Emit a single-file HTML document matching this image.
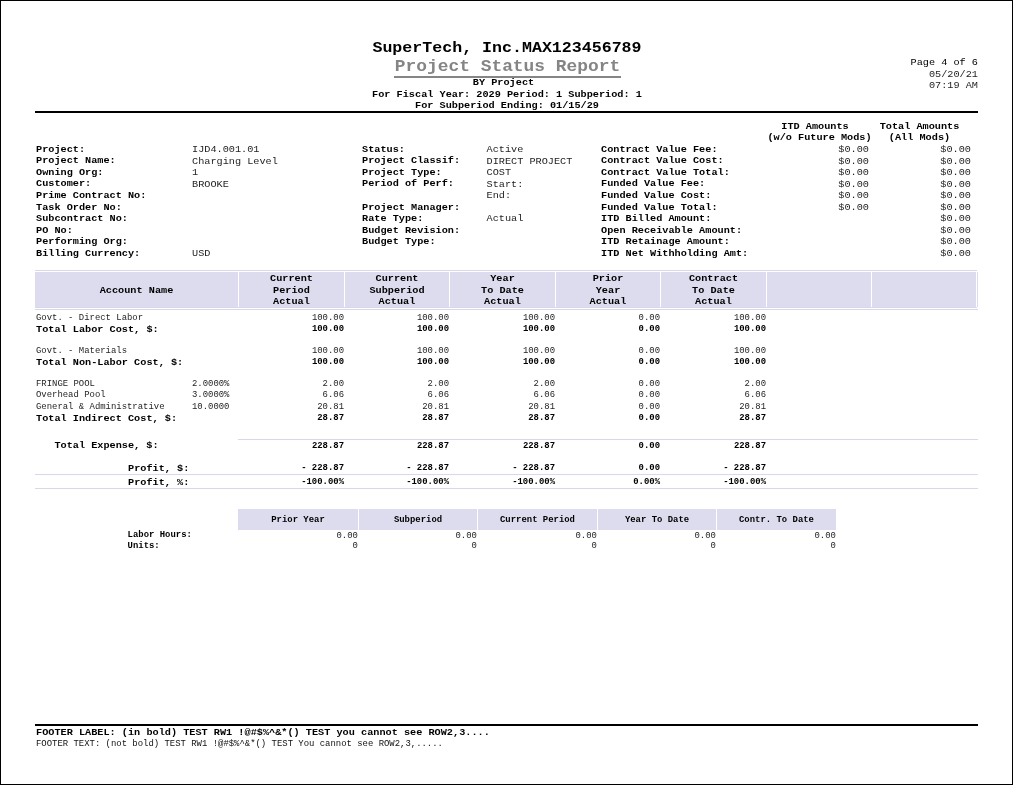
<!DOCTYPE html>
<html lang="en">
<head>
<meta charset="utf-8">
<title>Project Status Report</title>
<style>
html,body{margin:0;padding:0;background:#fff;}
body{width:1013px;height:785px;overflow:hidden;position:relative;font-family:"Liberation Mono","DejaVu Sans Mono",monospace;color:#000;}
#sheet{position:absolute;left:0;top:0;width:1011px;height:783px;border:1px solid #000;background:#fff;}
#canvas{position:absolute;left:-1px;top:-1px;width:1013px;height:785px;}
.t{position:absolute;white-space:pre;font-weight:700;margin:0;transform:scaleY(0.88);}
.b{position:absolute;}
</style>
</head>
<body>
<div id="sheet"><div id="canvas">
<div class="t" style="top:37px;font-size:16.61px;line-height:22px;transform-origin:50% 15px;left:207px;width:600px;text-align:center;">SuperTech, Inc.MAX123456789</div>
<div class="t" style="top:55px;font-size:17.89px;line-height:22px;transform-origin:50% 16px;left:207.5px;width:600px;text-align:center;color:#858585;">Project Status Report</div>
<div class="b" style="left:394px;top:76px;width:227px;height:2px;background:#858585"></div>
<div class="t" style="top:76px;font-size:10.22px;line-height:12px;transform-origin:50% 9px;left:203.5px;width:600px;text-align:center;">BY Project</div>
<div class="t" style="top:88px;font-size:10.22px;line-height:12px;transform-origin:50% 9px;left:207px;width:600px;text-align:center;">For Fiscal Year: 2029 Period: 1 Subperiod: 1</div>
<div class="t" style="top:99px;font-size:10.22px;line-height:12px;transform-origin:50% 9px;left:207px;width:600px;text-align:center;">For Subperiod Ending: 01/15/29</div>
<div class="b" style="left:35px;top:111px;width:943px;height:2px;background:#000"></div>
<div class="t" style="top:56px;font-size:10.22px;line-height:12px;transform-origin:50% 9px;right:35px;text-align:right;font-weight:400;color:#000;">Page 4 of 6</div>
<div class="t" style="top:68px;font-size:10.22px;line-height:12px;transform-origin:50% 9px;right:35px;text-align:right;font-weight:400;color:#1e1e1e;">05/20/21</div>
<div class="t" style="top:79px;font-size:10.22px;line-height:12px;transform-origin:50% 9px;right:35px;text-align:right;font-weight:400;color:#1e1e1e;">07:19 AM</div>
<div class="t" style="top:143px;font-size:10.22px;line-height:12px;transform-origin:50% 9px;left:36px;">Project:</div>
<div class="t" style="top:154px;font-size:10.22px;line-height:12px;transform-origin:50% 9px;left:36px;">Project Name:</div>
<div class="t" style="top:166px;font-size:10.22px;line-height:12px;transform-origin:50% 9px;left:36px;">Owning Org:</div>
<div class="t" style="top:177px;font-size:10.22px;line-height:12px;transform-origin:50% 9px;left:36px;">Customer:</div>
<div class="t" style="top:189px;font-size:10.22px;line-height:12px;transform-origin:50% 9px;left:36px;">Prime Contract No:</div>
<div class="t" style="top:201px;font-size:10.22px;line-height:12px;transform-origin:50% 9px;left:36px;">Task Order No:</div>
<div class="t" style="top:212px;font-size:10.22px;line-height:12px;transform-origin:50% 9px;left:36px;">Subcontract No:</div>
<div class="t" style="top:224px;font-size:10.22px;line-height:12px;transform-origin:50% 9px;left:36px;">PO No:</div>
<div class="t" style="top:235px;font-size:10.22px;line-height:12px;transform-origin:50% 9px;left:36px;">Performing Org:</div>
<div class="t" style="top:247px;font-size:10.22px;line-height:12px;transform-origin:50% 9px;left:36px;">Billing Currency:</div>
<div class="t" style="top:143px;font-size:10.22px;line-height:12px;transform-origin:50% 9px;left:192px;font-weight:400;color:#1e1e1e;">IJD4.001.01</div>
<div class="t" style="top:155px;font-size:10.22px;line-height:12px;transform-origin:50% 9px;left:192px;font-weight:400;color:#1e1e1e;">Charging Level</div>
<div class="t" style="top:166px;font-size:10.22px;line-height:12px;transform-origin:50% 9px;left:192px;font-weight:400;color:#1e1e1e;">1</div>
<div class="t" style="top:178px;font-size:10.22px;line-height:12px;transform-origin:50% 9px;left:192px;font-weight:400;color:#1e1e1e;">BROOKE</div>
<div class="t" style="top:247px;font-size:10.22px;line-height:12px;transform-origin:50% 9px;left:192px;font-weight:400;color:#1e1e1e;">USD</div>
<div class="t" style="top:143px;font-size:10.22px;line-height:12px;transform-origin:50% 9px;left:362px;">Status:</div>
<div class="t" style="top:154px;font-size:10.22px;line-height:12px;transform-origin:50% 9px;left:362px;">Project Classif:</div>
<div class="t" style="top:166px;font-size:10.22px;line-height:12px;transform-origin:50% 9px;left:362px;">Project Type:</div>
<div class="t" style="top:177px;font-size:10.22px;line-height:12px;transform-origin:50% 9px;left:362px;">Period of Perf:</div>
<div class="t" style="top:201px;font-size:10.22px;line-height:12px;transform-origin:50% 9px;left:362px;">Project Manager:</div>
<div class="t" style="top:212px;font-size:10.22px;line-height:12px;transform-origin:50% 9px;left:362px;">Rate Type:</div>
<div class="t" style="top:224px;font-size:10.22px;line-height:12px;transform-origin:50% 9px;left:362px;">Budget Revision:</div>
<div class="t" style="top:235px;font-size:10.22px;line-height:12px;transform-origin:50% 9px;left:362px;">Budget Type:</div>
<div class="t" style="top:143px;font-size:10.22px;line-height:12px;transform-origin:50% 9px;left:486.5px;font-weight:400;color:#1e1e1e;">Active</div>
<div class="t" style="top:155px;font-size:10.22px;line-height:12px;transform-origin:50% 9px;left:486.5px;font-weight:400;color:#1e1e1e;">DIRECT PROJECT</div>
<div class="t" style="top:166px;font-size:10.22px;line-height:12px;transform-origin:50% 9px;left:486.5px;font-weight:400;color:#1e1e1e;">COST</div>
<div class="t" style="top:178px;font-size:10.22px;line-height:12px;transform-origin:50% 9px;left:486.5px;font-weight:400;color:#1e1e1e;">Start:</div>
<div class="t" style="top:189px;font-size:10.22px;line-height:12px;transform-origin:50% 9px;left:486.5px;font-weight:400;color:#1e1e1e;">End:</div>
<div class="t" style="top:212px;font-size:10.22px;line-height:12px;transform-origin:50% 9px;left:486.5px;font-weight:400;color:#1e1e1e;">Actual</div>
<div class="t" style="top:143px;font-size:10.22px;line-height:12px;transform-origin:50% 9px;left:601px;">Contract Value Fee:</div>
<div class="t" style="top:154px;font-size:10.22px;line-height:12px;transform-origin:50% 9px;left:601px;">Contract Value Cost:</div>
<div class="t" style="top:166px;font-size:10.22px;line-height:12px;transform-origin:50% 9px;left:601px;">Contract Value Total:</div>
<div class="t" style="top:177px;font-size:10.22px;line-height:12px;transform-origin:50% 9px;left:601px;">Funded Value Fee:</div>
<div class="t" style="top:189px;font-size:10.22px;line-height:12px;transform-origin:50% 9px;left:601px;">Funded Value Cost:</div>
<div class="t" style="top:201px;font-size:10.22px;line-height:12px;transform-origin:50% 9px;left:601px;">Funded Value Total:</div>
<div class="t" style="top:212px;font-size:10.22px;line-height:12px;transform-origin:50% 9px;left:601px;">ITD Billed Amount:</div>
<div class="t" style="top:224px;font-size:10.22px;line-height:12px;transform-origin:50% 9px;left:601px;">Open Receivable Amount:</div>
<div class="t" style="top:235px;font-size:10.22px;line-height:12px;transform-origin:50% 9px;left:601px;">ITD Retainage Amount:</div>
<div class="t" style="top:247px;font-size:10.22px;line-height:12px;transform-origin:50% 9px;left:601px;">ITD Net Withholding Amt:</div>
<div class="t" style="top:143px;font-size:10.22px;line-height:12px;transform-origin:50% 9px;right:144px;text-align:right;font-weight:400;color:#1e1e1e;">$0.00</div>
<div class="t" style="top:155px;font-size:10.22px;line-height:12px;transform-origin:50% 9px;right:144px;text-align:right;font-weight:400;color:#1e1e1e;">$0.00</div>
<div class="t" style="top:166px;font-size:10.22px;line-height:12px;transform-origin:50% 9px;right:144px;text-align:right;font-weight:400;color:#1e1e1e;">$0.00</div>
<div class="t" style="top:178px;font-size:10.22px;line-height:12px;transform-origin:50% 9px;right:144px;text-align:right;font-weight:400;color:#1e1e1e;">$0.00</div>
<div class="t" style="top:189px;font-size:10.22px;line-height:12px;transform-origin:50% 9px;right:144px;text-align:right;font-weight:400;color:#1e1e1e;">$0.00</div>
<div class="t" style="top:201px;font-size:10.22px;line-height:12px;transform-origin:50% 9px;right:144px;text-align:right;font-weight:400;color:#1e1e1e;">$0.00</div>
<div class="t" style="top:143px;font-size:10.22px;line-height:12px;transform-origin:50% 9px;right:42px;text-align:right;font-weight:400;color:#1e1e1e;">$0.00</div>
<div class="t" style="top:155px;font-size:10.22px;line-height:12px;transform-origin:50% 9px;right:42px;text-align:right;font-weight:400;color:#1e1e1e;">$0.00</div>
<div class="t" style="top:166px;font-size:10.22px;line-height:12px;transform-origin:50% 9px;right:42px;text-align:right;font-weight:400;color:#1e1e1e;">$0.00</div>
<div class="t" style="top:178px;font-size:10.22px;line-height:12px;transform-origin:50% 9px;right:42px;text-align:right;font-weight:400;color:#1e1e1e;">$0.00</div>
<div class="t" style="top:189px;font-size:10.22px;line-height:12px;transform-origin:50% 9px;right:42px;text-align:right;font-weight:400;color:#1e1e1e;">$0.00</div>
<div class="t" style="top:201px;font-size:10.22px;line-height:12px;transform-origin:50% 9px;right:42px;text-align:right;font-weight:400;color:#1e1e1e;">$0.00</div>
<div class="t" style="top:212px;font-size:10.22px;line-height:12px;transform-origin:50% 9px;right:42px;text-align:right;font-weight:400;color:#1e1e1e;">$0.00</div>
<div class="t" style="top:224px;font-size:10.22px;line-height:12px;transform-origin:50% 9px;right:42px;text-align:right;font-weight:400;color:#1e1e1e;">$0.00</div>
<div class="t" style="top:235px;font-size:10.22px;line-height:12px;transform-origin:50% 9px;right:42px;text-align:right;font-weight:400;color:#1e1e1e;">$0.00</div>
<div class="t" style="top:247px;font-size:10.22px;line-height:12px;transform-origin:50% 9px;right:42px;text-align:right;font-weight:400;color:#1e1e1e;">$0.00</div>
<div class="t" style="top:120px;font-size:10.22px;line-height:12px;transform-origin:50% 9px;left:515px;width:600px;text-align:center;">ITD Amounts</div>
<div class="t" style="top:131px;font-size:10.22px;line-height:12px;transform-origin:50% 9px;left:519.5px;width:600px;text-align:center;">(w/o Future Mods)</div>
<div class="t" style="top:120px;font-size:10.22px;line-height:12px;transform-origin:50% 9px;left:619.5px;width:600px;text-align:center;">Total Amounts</div>
<div class="t" style="top:131px;font-size:10.22px;line-height:12px;transform-origin:50% 9px;left:619.5px;width:600px;text-align:center;">(All Mods)</div>
<div class="b" style="left:35px;top:270px;width:942px;height:1px;background:#d9d7ec"></div>
<div class="b" style="left:35px;top:272px;width:941px;height:35px;background:#dcdcee"></div>
<div class="b" style="left:238px;top:272px;width:1px;height:35px;background:#fff"></div>
<div class="b" style="left:344px;top:272px;width:1px;height:35px;background:#fff"></div>
<div class="b" style="left:449px;top:272px;width:1px;height:35px;background:#fff"></div>
<div class="b" style="left:555px;top:272px;width:1px;height:35px;background:#fff"></div>
<div class="b" style="left:660px;top:272px;width:1px;height:35px;background:#fff"></div>
<div class="b" style="left:766px;top:272px;width:1px;height:35px;background:#fff"></div>
<div class="b" style="left:871px;top:272px;width:1px;height:35px;background:#fff"></div>
<div class="b" style="left:977px;top:272px;width:1px;height:35px;background:#dcdcf0"></div>
<div class="b" style="left:35px;top:307px;width:942px;height:1px;background:#d9d7ec"></div>
<div class="b" style="left:35px;top:309px;width:943px;height:1px;background:#d9d7ec"></div>
<div class="t" style="top:284px;font-size:10.22px;line-height:12px;transform-origin:50% 9px;left:-163.5px;width:600px;text-align:center;">Account Name</div>
<div class="t" style="top:272px;font-size:10.22px;line-height:12px;transform-origin:50% 9px;left:-8.5px;width:600px;text-align:center;">Current</div>
<div class="t" style="top:284px;font-size:10.22px;line-height:12px;transform-origin:50% 9px;left:-8.5px;width:600px;text-align:center;">Period</div>
<div class="t" style="top:295px;font-size:10.22px;line-height:12px;transform-origin:50% 9px;left:-8.5px;width:600px;text-align:center;">Actual</div>
<div class="t" style="top:272px;font-size:10.22px;line-height:12px;transform-origin:50% 9px;left:97px;width:600px;text-align:center;">Current</div>
<div class="t" style="top:284px;font-size:10.22px;line-height:12px;transform-origin:50% 9px;left:97px;width:600px;text-align:center;">Subperiod</div>
<div class="t" style="top:295px;font-size:10.22px;line-height:12px;transform-origin:50% 9px;left:97px;width:600px;text-align:center;">Actual</div>
<div class="t" style="top:272px;font-size:10.22px;line-height:12px;transform-origin:50% 9px;left:202.5px;width:600px;text-align:center;">Year</div>
<div class="t" style="top:284px;font-size:10.22px;line-height:12px;transform-origin:50% 9px;left:202.5px;width:600px;text-align:center;">To Date</div>
<div class="t" style="top:295px;font-size:10.22px;line-height:12px;transform-origin:50% 9px;left:202.5px;width:600px;text-align:center;">Actual</div>
<div class="t" style="top:272px;font-size:10.22px;line-height:12px;transform-origin:50% 9px;left:308px;width:600px;text-align:center;">Prior</div>
<div class="t" style="top:284px;font-size:10.22px;line-height:12px;transform-origin:50% 9px;left:308px;width:600px;text-align:center;">Year</div>
<div class="t" style="top:295px;font-size:10.22px;line-height:12px;transform-origin:50% 9px;left:308px;width:600px;text-align:center;">Actual</div>
<div class="t" style="top:272px;font-size:10.22px;line-height:12px;transform-origin:50% 9px;left:413.5px;width:600px;text-align:center;">Contract</div>
<div class="t" style="top:284px;font-size:10.22px;line-height:12px;transform-origin:50% 9px;left:413.5px;width:600px;text-align:center;">To Date</div>
<div class="t" style="top:295px;font-size:10.22px;line-height:12px;transform-origin:50% 9px;left:413.5px;width:600px;text-align:center;">Actual</div>
<div class="t" style="top:312px;font-size:8.94px;line-height:12px;transform-origin:50% 8px;left:36px;font-weight:400;color:#1e1e1e;transform:scaleY(.96);">Govt. - Direct Labor</div>
<div class="t" style="top:312px;font-size:8.94px;line-height:12px;transform-origin:50% 8px;right:669px;text-align:right;font-weight:400;color:#1e1e1e;transform:scaleY(.96);">100.00</div>
<div class="t" style="top:312px;font-size:8.94px;line-height:12px;transform-origin:50% 8px;right:564px;text-align:right;font-weight:400;color:#1e1e1e;transform:scaleY(.96);">100.00</div>
<div class="t" style="top:312px;font-size:8.94px;line-height:12px;transform-origin:50% 8px;right:458px;text-align:right;font-weight:400;color:#1e1e1e;transform:scaleY(.96);">100.00</div>
<div class="t" style="top:312px;font-size:8.94px;line-height:12px;transform-origin:50% 8px;right:353px;text-align:right;font-weight:400;color:#1e1e1e;transform:scaleY(.96);">0.00</div>
<div class="t" style="top:312px;font-size:8.94px;line-height:12px;transform-origin:50% 8px;right:247px;text-align:right;font-weight:400;color:#1e1e1e;transform:scaleY(.96);">100.00</div>
<div class="t" style="top:323px;font-size:10.22px;line-height:12px;transform-origin:50% 9px;left:36px;">Total Labor Cost, $:</div>
<div class="t" style="top:323px;font-size:8.94px;line-height:12px;transform-origin:50% 8px;right:669px;text-align:right;transform:scaleY(.96);">100.00</div>
<div class="t" style="top:323px;font-size:8.94px;line-height:12px;transform-origin:50% 8px;right:564px;text-align:right;transform:scaleY(.96);">100.00</div>
<div class="t" style="top:323px;font-size:8.94px;line-height:12px;transform-origin:50% 8px;right:458px;text-align:right;transform:scaleY(.96);">100.00</div>
<div class="t" style="top:323px;font-size:8.94px;line-height:12px;transform-origin:50% 8px;right:353px;text-align:right;transform:scaleY(.96);">0.00</div>
<div class="t" style="top:323px;font-size:8.94px;line-height:12px;transform-origin:50% 8px;right:247px;text-align:right;transform:scaleY(.96);">100.00</div>
<div class="t" style="top:345px;font-size:8.94px;line-height:12px;transform-origin:50% 8px;left:36px;font-weight:400;color:#1e1e1e;transform:scaleY(.96);">Govt. - Materials</div>
<div class="t" style="top:345px;font-size:8.94px;line-height:12px;transform-origin:50% 8px;right:669px;text-align:right;font-weight:400;color:#1e1e1e;transform:scaleY(.96);">100.00</div>
<div class="t" style="top:345px;font-size:8.94px;line-height:12px;transform-origin:50% 8px;right:564px;text-align:right;font-weight:400;color:#1e1e1e;transform:scaleY(.96);">100.00</div>
<div class="t" style="top:345px;font-size:8.94px;line-height:12px;transform-origin:50% 8px;right:458px;text-align:right;font-weight:400;color:#1e1e1e;transform:scaleY(.96);">100.00</div>
<div class="t" style="top:345px;font-size:8.94px;line-height:12px;transform-origin:50% 8px;right:353px;text-align:right;font-weight:400;color:#1e1e1e;transform:scaleY(.96);">0.00</div>
<div class="t" style="top:345px;font-size:8.94px;line-height:12px;transform-origin:50% 8px;right:247px;text-align:right;font-weight:400;color:#1e1e1e;transform:scaleY(.96);">100.00</div>
<div class="t" style="top:356px;font-size:10.22px;line-height:12px;transform-origin:50% 9px;left:36px;">Total Non-Labor Cost, $:</div>
<div class="t" style="top:356px;font-size:8.94px;line-height:12px;transform-origin:50% 8px;right:669px;text-align:right;transform:scaleY(.96);">100.00</div>
<div class="t" style="top:356px;font-size:8.94px;line-height:12px;transform-origin:50% 8px;right:564px;text-align:right;transform:scaleY(.96);">100.00</div>
<div class="t" style="top:356px;font-size:8.94px;line-height:12px;transform-origin:50% 8px;right:458px;text-align:right;transform:scaleY(.96);">100.00</div>
<div class="t" style="top:356px;font-size:8.94px;line-height:12px;transform-origin:50% 8px;right:353px;text-align:right;transform:scaleY(.96);">0.00</div>
<div class="t" style="top:356px;font-size:8.94px;line-height:12px;transform-origin:50% 8px;right:247px;text-align:right;transform:scaleY(.96);">100.00</div>
<div class="t" style="top:378px;font-size:8.94px;line-height:12px;transform-origin:50% 8px;left:36px;font-weight:400;color:#1e1e1e;transform:scaleY(.96);">FRINGE POOL</div>
<div class="t" style="top:378px;font-size:8.94px;line-height:12px;transform-origin:50% 8px;left:192px;font-weight:400;color:#1e1e1e;transform:scaleY(.96);">2.0000%</div>
<div class="t" style="top:378px;font-size:8.94px;line-height:12px;transform-origin:50% 8px;right:669px;text-align:right;font-weight:400;color:#1e1e1e;transform:scaleY(.96);">2.00</div>
<div class="t" style="top:378px;font-size:8.94px;line-height:12px;transform-origin:50% 8px;right:564px;text-align:right;font-weight:400;color:#1e1e1e;transform:scaleY(.96);">2.00</div>
<div class="t" style="top:378px;font-size:8.94px;line-height:12px;transform-origin:50% 8px;right:458px;text-align:right;font-weight:400;color:#1e1e1e;transform:scaleY(.96);">2.00</div>
<div class="t" style="top:378px;font-size:8.94px;line-height:12px;transform-origin:50% 8px;right:353px;text-align:right;font-weight:400;color:#1e1e1e;transform:scaleY(.96);">0.00</div>
<div class="t" style="top:378px;font-size:8.94px;line-height:12px;transform-origin:50% 8px;right:247px;text-align:right;font-weight:400;color:#1e1e1e;transform:scaleY(.96);">2.00</div>
<div class="t" style="top:389px;font-size:8.94px;line-height:12px;transform-origin:50% 8px;left:36px;font-weight:400;color:#1e1e1e;transform:scaleY(.96);">Overhead Pool</div>
<div class="t" style="top:389px;font-size:8.94px;line-height:12px;transform-origin:50% 8px;left:192px;font-weight:400;color:#1e1e1e;transform:scaleY(.96);">3.0000%</div>
<div class="t" style="top:389px;font-size:8.94px;line-height:12px;transform-origin:50% 8px;right:669px;text-align:right;font-weight:400;color:#1e1e1e;transform:scaleY(.96);">6.06</div>
<div class="t" style="top:389px;font-size:8.94px;line-height:12px;transform-origin:50% 8px;right:564px;text-align:right;font-weight:400;color:#1e1e1e;transform:scaleY(.96);">6.06</div>
<div class="t" style="top:389px;font-size:8.94px;line-height:12px;transform-origin:50% 8px;right:458px;text-align:right;font-weight:400;color:#1e1e1e;transform:scaleY(.96);">6.06</div>
<div class="t" style="top:389px;font-size:8.94px;line-height:12px;transform-origin:50% 8px;right:353px;text-align:right;font-weight:400;color:#1e1e1e;transform:scaleY(.96);">0.00</div>
<div class="t" style="top:389px;font-size:8.94px;line-height:12px;transform-origin:50% 8px;right:247px;text-align:right;font-weight:400;color:#1e1e1e;transform:scaleY(.96);">6.06</div>
<div class="t" style="top:401px;font-size:8.94px;line-height:12px;transform-origin:50% 8px;left:36px;font-weight:400;color:#1e1e1e;transform:scaleY(.96);">General &amp; Administrative</div>
<div class="t" style="top:401px;font-size:8.94px;line-height:12px;transform-origin:50% 8px;left:192px;font-weight:400;color:#1e1e1e;transform:scaleY(.96);">10.0000</div>
<div class="t" style="top:401px;font-size:8.94px;line-height:12px;transform-origin:50% 8px;right:669px;text-align:right;font-weight:400;color:#1e1e1e;transform:scaleY(.96);">20.81</div>
<div class="t" style="top:401px;font-size:8.94px;line-height:12px;transform-origin:50% 8px;right:564px;text-align:right;font-weight:400;color:#1e1e1e;transform:scaleY(.96);">20.81</div>
<div class="t" style="top:401px;font-size:8.94px;line-height:12px;transform-origin:50% 8px;right:458px;text-align:right;font-weight:400;color:#1e1e1e;transform:scaleY(.96);">20.81</div>
<div class="t" style="top:401px;font-size:8.94px;line-height:12px;transform-origin:50% 8px;right:353px;text-align:right;font-weight:400;color:#1e1e1e;transform:scaleY(.96);">0.00</div>
<div class="t" style="top:401px;font-size:8.94px;line-height:12px;transform-origin:50% 8px;right:247px;text-align:right;font-weight:400;color:#1e1e1e;transform:scaleY(.96);">20.81</div>
<div class="t" style="top:412px;font-size:10.22px;line-height:12px;transform-origin:50% 9px;left:36px;">Total Indirect Cost, $:</div>
<div class="t" style="top:412px;font-size:8.94px;line-height:12px;transform-origin:50% 8px;right:669px;text-align:right;transform:scaleY(.96);">28.87</div>
<div class="t" style="top:412px;font-size:8.94px;line-height:12px;transform-origin:50% 8px;right:564px;text-align:right;transform:scaleY(.96);">28.87</div>
<div class="t" style="top:412px;font-size:8.94px;line-height:12px;transform-origin:50% 8px;right:458px;text-align:right;transform:scaleY(.96);">28.87</div>
<div class="t" style="top:412px;font-size:8.94px;line-height:12px;transform-origin:50% 8px;right:353px;text-align:right;transform:scaleY(.96);">0.00</div>
<div class="t" style="top:412px;font-size:8.94px;line-height:12px;transform-origin:50% 8px;right:247px;text-align:right;transform:scaleY(.96);">28.87</div>
<div class="b" style="left:238px;top:439px;width:740px;height:1px;background:#d9d7ec"></div>
<div class="t" style="top:439px;font-size:10.22px;line-height:12px;transform-origin:50% 9px;left:54.4px;">Total Expense, $:</div>
<div class="t" style="top:440px;font-size:8.94px;line-height:12px;transform-origin:50% 8px;right:669px;text-align:right;transform:scaleY(.96);">228.87</div>
<div class="t" style="top:440px;font-size:8.94px;line-height:12px;transform-origin:50% 8px;right:564px;text-align:right;transform:scaleY(.96);">228.87</div>
<div class="t" style="top:440px;font-size:8.94px;line-height:12px;transform-origin:50% 8px;right:458px;text-align:right;transform:scaleY(.96);">228.87</div>
<div class="t" style="top:440px;font-size:8.94px;line-height:12px;transform-origin:50% 8px;right:353px;text-align:right;transform:scaleY(.96);">0.00</div>
<div class="t" style="top:440px;font-size:8.94px;line-height:12px;transform-origin:50% 8px;right:247px;text-align:right;transform:scaleY(.96);">228.87</div>
<div class="t" style="top:462px;font-size:10.22px;line-height:12px;transform-origin:50% 9px;left:128px;">Profit, $:</div>
<div class="t" style="top:462px;font-size:8.94px;line-height:12px;transform-origin:50% 8px;right:669px;text-align:right;transform:scaleY(.96);">- 228.87</div>
<div class="t" style="top:462px;font-size:8.94px;line-height:12px;transform-origin:50% 8px;right:564px;text-align:right;transform:scaleY(.96);">- 228.87</div>
<div class="t" style="top:462px;font-size:8.94px;line-height:12px;transform-origin:50% 8px;right:458px;text-align:right;transform:scaleY(.96);">- 228.87</div>
<div class="t" style="top:462px;font-size:8.94px;line-height:12px;transform-origin:50% 8px;right:353px;text-align:right;transform:scaleY(.96);">0.00</div>
<div class="t" style="top:462px;font-size:8.94px;line-height:12px;transform-origin:50% 8px;right:247px;text-align:right;transform:scaleY(.96);">- 228.87</div>
<div class="b" style="left:35px;top:474px;width:943px;height:1px;background:#d9d7ec"></div>
<div class="t" style="top:476px;font-size:10.22px;line-height:12px;transform-origin:50% 9px;left:128px;">Profit, %:</div>
<div class="t" style="top:476px;font-size:8.94px;line-height:12px;transform-origin:50% 8px;right:669px;text-align:right;transform:scaleY(.96);">-100.00%</div>
<div class="t" style="top:476px;font-size:8.94px;line-height:12px;transform-origin:50% 8px;right:564px;text-align:right;transform:scaleY(.96);">-100.00%</div>
<div class="t" style="top:476px;font-size:8.94px;line-height:12px;transform-origin:50% 8px;right:458px;text-align:right;transform:scaleY(.96);">-100.00%</div>
<div class="t" style="top:476px;font-size:8.94px;line-height:12px;transform-origin:50% 8px;right:353px;text-align:right;transform:scaleY(.96);">0.00%</div>
<div class="t" style="top:476px;font-size:8.94px;line-height:12px;transform-origin:50% 8px;right:247px;text-align:right;transform:scaleY(.96);">-100.00%</div>
<div class="b" style="left:35px;top:488px;width:943px;height:1px;background:#d9d7ec"></div>
<div class="b" style="left:238px;top:509px;width:598px;height:21px;background:#dcdcee"></div>
<div class="b" style="left:358px;top:509px;width:1px;height:21px;background:#fff"></div>
<div class="b" style="left:477px;top:509px;width:1px;height:21px;background:#fff"></div>
<div class="b" style="left:597px;top:509px;width:1px;height:21px;background:#fff"></div>
<div class="b" style="left:716px;top:509px;width:1px;height:21px;background:#fff"></div>
<div class="t" style="top:514px;font-size:8.94px;line-height:12px;transform-origin:50% 8px;left:-2px;width:600px;text-align:center;transform:scaleY(.96);">Prior Year</div>
<div class="t" style="top:530px;font-size:8.94px;line-height:12px;transform-origin:50% 8px;right:655.1px;text-align:right;font-weight:400;color:#1e1e1e;transform:scaleY(.96);">0.00</div>
<div class="t" style="top:540px;font-size:8.94px;line-height:12px;transform-origin:50% 8px;right:655.1px;text-align:right;font-weight:400;color:#1e1e1e;transform:scaleY(.96);">0</div>
<div class="t" style="top:514px;font-size:8.94px;line-height:12px;transform-origin:50% 8px;left:118px;width:600px;text-align:center;transform:scaleY(.96);">Subperiod</div>
<div class="t" style="top:530px;font-size:8.94px;line-height:12px;transform-origin:50% 8px;right:536.1px;text-align:right;font-weight:400;color:#1e1e1e;transform:scaleY(.96);">0.00</div>
<div class="t" style="top:540px;font-size:8.94px;line-height:12px;transform-origin:50% 8px;right:536.1px;text-align:right;font-weight:400;color:#1e1e1e;transform:scaleY(.96);">0</div>
<div class="t" style="top:514px;font-size:8.94px;line-height:12px;transform-origin:50% 8px;left:237.5px;width:600px;text-align:center;transform:scaleY(.96);">Current Period</div>
<div class="t" style="top:530px;font-size:8.94px;line-height:12px;transform-origin:50% 8px;right:416.1px;text-align:right;font-weight:400;color:#1e1e1e;transform:scaleY(.96);">0.00</div>
<div class="t" style="top:540px;font-size:8.94px;line-height:12px;transform-origin:50% 8px;right:416.1px;text-align:right;font-weight:400;color:#1e1e1e;transform:scaleY(.96);">0</div>
<div class="t" style="top:514px;font-size:8.94px;line-height:12px;transform-origin:50% 8px;left:357px;width:600px;text-align:center;transform:scaleY(.96);">Year To Date</div>
<div class="t" style="top:530px;font-size:8.94px;line-height:12px;transform-origin:50% 8px;right:297.1px;text-align:right;font-weight:400;color:#1e1e1e;transform:scaleY(.96);">0.00</div>
<div class="t" style="top:540px;font-size:8.94px;line-height:12px;transform-origin:50% 8px;right:297.1px;text-align:right;font-weight:400;color:#1e1e1e;transform:scaleY(.96);">0</div>
<div class="t" style="top:514px;font-size:8.94px;line-height:12px;transform-origin:50% 8px;left:476.5px;width:600px;text-align:center;transform:scaleY(.96);">Contr. To Date</div>
<div class="t" style="top:530px;font-size:8.94px;line-height:12px;transform-origin:50% 8px;right:177.1px;text-align:right;font-weight:400;color:#1e1e1e;transform:scaleY(.96);">0.00</div>
<div class="t" style="top:540px;font-size:8.94px;line-height:12px;transform-origin:50% 8px;right:177.1px;text-align:right;font-weight:400;color:#1e1e1e;transform:scaleY(.96);">0</div>
<div class="t" style="top:529px;font-size:8.94px;line-height:12px;transform-origin:50% 8px;left:127.6px;transform:scaleY(.96);">Labor Hours:</div>
<div class="t" style="top:540px;font-size:8.94px;line-height:12px;transform-origin:50% 8px;left:127.6px;transform:scaleY(.96);">Units:</div>
<div class="b" style="left:35px;top:724px;width:943px;height:2px;background:#000"></div>
<div class="t" style="top:726px;font-size:10.22px;line-height:12px;transform-origin:50% 9px;left:36px;">FOOTER LABEL: (in bold) TEST RW1 !@#$%^&amp;*() TEST you cannot see ROW2,3....</div>
<div class="t" style="top:738px;font-size:8.94px;line-height:12px;transform-origin:50% 8px;left:36px;font-weight:400;color:#111;transform:scaleY(.96);">FOOTER TEXT: (not bold) TEST RW1 !@#$%^&amp;*() TEST You cannot see ROW2,3,.....</div>
</div></div>
</body>
</html>
